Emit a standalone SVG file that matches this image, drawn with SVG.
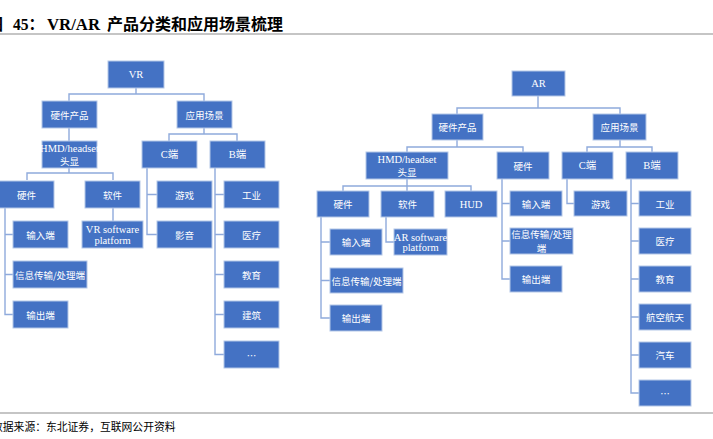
<svg xmlns="http://www.w3.org/2000/svg" width="713" height="439" viewBox="0 0 713 439">
<style>
.box{fill:#4472C4;stroke:#B4C7E7;stroke-width:1}
.t{fill:#fff;font-family:"Noto Sans CJK SC","Liberation Serif",sans-serif;font-size:9.5px;text-anchor:middle;dominant-baseline:central}
.l{fill:#fff;font-family:"Liberation Serif","Noto Sans CJK SC",serif;font-size:10.5px;text-anchor:middle;dominant-baseline:central}
.conn path{fill:none;stroke:#8FAADC;stroke-width:1.4}
.rule{stroke:#8C8C8C;stroke-width:1.2}
.title{font-family:"Liberation Serif","Noto Sans CJK SC",serif;font-size:16px;font-weight:bold;fill:#000}
.src{font-family:"Noto Sans CJK SC",sans-serif;font-size:10.8px;fill:#000}
</style>
<rect width="713" height="439" fill="#fff"/>
<text class="title" y="30"><tspan x="-13">图</tspan><tspan x="13" textLength="31" lengthAdjust="spacingAndGlyphs">45：</tspan><tspan x="47" textLength="53" lengthAdjust="spacingAndGlyphs">VR/AR</tspan><tspan x="107">产品分类和应用场景梳理</tspan></text>
<line class="rule" x1="0" y1="34" x2="713" y2="34"/>
<line class="rule" x1="0" y1="413" x2="713" y2="413"/>
<text class="src" x="-8" y="431">数据来源：东北证券，互联网公开资料</text>

<g id="connectors" class="conn">
<path d="M136 88V94M69 101V94H204V101"/>
<path d="M69 128V141"/>
<path d="M204 128V134M169 141V134H237V141"/>
<path d="M69 168V173M27 180V173H113V180"/>
<path d="M5 208V314.5H13M5 234.5H13M5 274.5H13"/>
<path d="M113 208V221"/>
<path d="M147 168V234.5H157M147 194.5H157"/>
<path d="M215 168V354.5H224M215 194.5H224M215 234.5H224M215 274.5H224M215 314.5H224"/>
<path d="M538 96V108M457 114V108H620V114"/>
<path d="M457 140V147M407 152V147H523V152"/>
<path d="M620 140V147M587 152V147H652V152"/>
<path d="M407 179V191M343 191V186H471V191"/>
<path d="M321 217V318H330M321 242H330M321 280.5H330"/>
<path d="M386 217V242H394"/>
<path d="M502 179V279H510M502 203.5H510M502 241H510"/>
<path d="M567 179V203.5H574"/>
<path d="M631 179V393H639M631 203.5H639M631 241H639M631 279H639M631 317H639M631 355H639"/>
</g>

<g id="vr"><rect class="box" x="108" y="61" width="56" height="27"/><text class="l" x="136" y="74.5">VR</text></g>
<g id="vr_hw"><rect class="box" x="42" y="101" width="55" height="27"/><text class="t" x="69.5" y="114.5">硬件产品</text></g>
<g id="vr_app"><rect class="box" x="177" y="101" width="55" height="27"/><text class="t" x="204.5" y="114.5">应用场景</text></g>
<g id="vr_hmd"><rect class="box" x="42" y="141" width="55" height="27"/><text class="l" x="69.5" y="148.5">HMD/headset</text><text class="t" x="69.5" y="161">头显</text></g>
<g id="vr_c"><rect class="box" x="142" y="141" width="55" height="27"/><text class="l" x="169.5" y="154.5">C端</text></g>
<g id="vr_b"><rect class="box" x="210" y="141" width="55" height="27"/><text class="l" x="237.5" y="154.5">B端</text></g>
<g id="vr_hw2"><rect class="box" x="-1" y="181" width="55" height="27"/><text class="t" x="26.5" y="194.5">硬件</text></g>
<g id="vr_sw"><rect class="box" x="85" y="181" width="55" height="27"/><text class="t" x="112.5" y="194.5">软件</text></g>
<g id="vr_in"><rect class="box" x="13" y="221" width="55" height="27"/><text class="t" x="40.5" y="234.5">输入端</text></g>
<g id="vr_proc"><rect class="box" x="13" y="261" width="74" height="27"/><text class="t" x="50" y="274.5">信息传输/处理端</text></g>
<g id="vr_out"><rect class="box" x="13" y="301" width="55" height="27"/><text class="t" x="40.5" y="314.5">输出端</text></g>
<g id="vr_swp"><rect class="box" x="82" y="221" width="61" height="27"/><text class="l" x="112.5" y="229">VR software</text><text class="l" x="112.5" y="240">platform</text></g>
<g id="vr_game"><rect class="box" x="157" y="181" width="55" height="27"/><text class="t" x="184.5" y="194.5">游戏</text></g>
<g id="vr_av"><rect class="box" x="157" y="221" width="55" height="27"/><text class="t" x="184.5" y="234.5">影音</text></g>
<g id="vr_ind"><rect class="box" x="224" y="181" width="55" height="27"/><text class="t" x="251.5" y="194.5">工业</text></g>
<g id="vr_med"><rect class="box" x="224" y="221" width="55" height="27"/><text class="t" x="251.5" y="234.5">医疗</text></g>
<g id="vr_edu"><rect class="box" x="224" y="261" width="55" height="27"/><text class="t" x="251.5" y="274.5">教育</text></g>
<g id="vr_arch"><rect class="box" x="224" y="301" width="55" height="27"/><text class="t" x="251.5" y="314.5">建筑</text></g>
<g id="vr_more"><rect class="box" x="224" y="341" width="55" height="27"/><text class="t" x="251.5" y="354.5">…</text></g>

<g id="ar"><rect class="box" x="512" y="71" width="53" height="25"/><text class="l" x="538.5" y="83.5">AR</text></g>
<g id="ar_hw"><rect class="box" x="432" y="114" width="51" height="26"/><text class="t" x="457.5" y="127">硬件产品</text></g>
<g id="ar_app"><rect class="box" x="593" y="114" width="53" height="26"/><text class="t" x="619.5" y="127">应用场景</text></g>
<g id="ar_hmd"><rect class="box" x="366" y="152" width="82" height="27"/><text class="l" x="407" y="159">HMD/headset</text><text class="t" x="407" y="172">头显</text></g>
<g id="ar_hw2"><rect class="box" x="497" y="152" width="52" height="27"/><text class="t" x="523" y="165.5">硬件</text></g>
<g id="ar_c"><rect class="box" x="562" y="152" width="51" height="27"/><text class="l" x="587.5" y="165.5">C端</text></g>
<g id="ar_b"><rect class="box" x="626" y="152" width="52" height="27"/><text class="l" x="652" y="165.5">B端</text></g>
<g id="ar_hw3"><rect class="box" x="317" y="191" width="52" height="26"/><text class="t" x="343" y="204">硬件</text></g>
<g id="ar_sw"><rect class="box" x="381" y="191" width="53" height="26"/><text class="t" x="407.5" y="204">软件</text></g>
<g id="ar_hud"><rect class="box" x="445" y="191" width="52" height="26"/><text class="l" x="471" y="204">HUD</text></g>
<g id="ar_in"><rect class="box" x="330" y="229" width="52" height="26"/><text class="t" x="356" y="242">输入端</text></g>
<g id="ar_proc"><rect class="box" x="330" y="268" width="73" height="25"/><text class="t" x="366.5" y="280.5">信息传输/处理端</text></g>
<g id="ar_out"><rect class="box" x="330" y="305" width="52" height="26"/><text class="t" x="356" y="318">输出端</text></g>
<g id="ar_swp"><rect class="box" x="394" y="229" width="53" height="26"/><text class="l" x="420.5" y="237">AR software</text><text class="l" x="420.5" y="247.5">platform</text></g>
<g id="ar_in2"><rect class="box" x="510" y="191" width="52" height="25"/><text class="t" x="536" y="203.5">输入端</text></g>
<g id="ar_proc2"><rect class="box" x="510" y="228" width="63" height="26"/><text class="t" x="541.5" y="234">信息传输/处理</text><text class="t" x="541.5" y="247.5">端</text></g>
<g id="ar_out2"><rect class="box" x="510" y="266" width="52" height="26"/><text class="t" x="536" y="279">输出端</text></g>
<g id="ar_game"><rect class="box" x="574" y="191" width="53" height="25"/><text class="t" x="600.5" y="203.5">游戏</text></g>
<g id="ar_ind"><rect class="box" x="639" y="191" width="52" height="25"/><text class="t" x="665" y="203.5">工业</text></g>
<g id="ar_med"><rect class="box" x="639" y="228" width="52" height="26"/><text class="t" x="665" y="241">医疗</text></g>
<g id="ar_edu"><rect class="box" x="639" y="266" width="52" height="26"/><text class="t" x="665" y="279">教育</text></g>
<g id="ar_aero"><rect class="box" x="639" y="304" width="52" height="26"/><text class="t" x="665" y="317">航空航天</text></g>
<g id="ar_car"><rect class="box" x="639" y="342" width="52" height="26"/><text class="t" x="665" y="355">汽车</text></g>
<g id="ar_more"><rect class="box" x="639" y="380" width="52" height="26"/><text class="t" x="665" y="393">…</text></g>
</svg>
